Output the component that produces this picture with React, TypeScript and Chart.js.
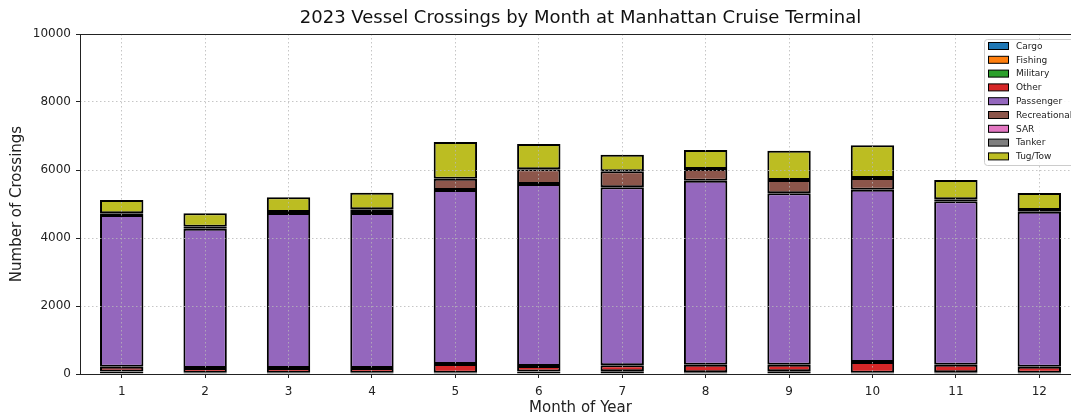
import React, { useEffect, useRef } from "react";
import { Chart, registerables } from "chart.js";

Chart.register(...registerables);

const months = ["1", "2", "3", "4", "5", "6", "7", "8", "9", "10", "11", "12"];
const cargo = [70, 40, 40, 40, 40, 70, 80, 50, 80, 40, 50, 40];
const fishing = [0, 0, 0, 0, 0, 0, 0, 0, 0, 0, 0, 0];
const military = [0, 0, 0, 0, 0, 0, 0, 0, 0, 0, 0, 0];
const other = [140, 136, 136, 136, 254, 165, 175, 225, 195, 313, 225, 176];
const passenger = [4470, 4099, 4559, 4559, 5118, 5353, 5235, 5411, 5039, 5069, 4803, 4559];
const recreational = [46, 58, 30, 108, 333, 432, 471, 343, 392, 343, 59, 49];
const sar = [0, 0, 0, 0, 0, 0, 0, 0, 0, 0, 0, 0];
const tanker = [0, 0, 0, 0, 0, 0, 0, 0, 0, 0, 0, 0];
const tugTow = [392, 393, 431, 490, 1079, 745, 490, 559, 863, 960, 569, 496];

const seriesNames = ["Cargo", "Fishing", "Military", "Other", "Passenger", "Recreational", "SAR", "Tanker", "Tug/Tow"];
const seriesValues = [cargo, fishing, military, other, passenger, recreational, sar, tanker, tugTow];
const seriesColors = ["#1f77b4", "#ff7f0e", "#2ca02c", "#d62728", "#9467bd", "#8c564b", "#e377c2", "#7f7f7f", "#bcbd22"];

const yTicks = [0, 2000, 4000, 6000, 8000, 10000];

const TITLE = "2023 Vessel Crossings by Month at Manhattan Cruise Terminal";
const FONT = "'DejaVu Sans', sans-serif";

const decorPlugin = {
  id: "decor",
  afterDraw(chart: any) {
    const { ctx, chartArea } = chart;
    const { left, right, top, bottom } = chartArea;
    ctx.save();
    // frame
    ctx.strokeStyle = "#222";
    ctx.lineWidth = 1;
    ctx.setLineDash([]);
    ctx.strokeRect(left + 0.5, top + 0.5, right - left, bottom - top);
    // title
    ctx.fillStyle = "#111";
    ctx.font = `18px ${FONT}`;
    ctx.textAlign = "center";
    ctx.textBaseline = "middle";
    ctx.fillText(TITLE, (left + right) / 2, 18);
    // legend
    const x0 = right - 97;
    const y0 = top + 5;
    const w = 94;
    const h = 126;
    ctx.globalAlpha = 0.85;
    ctx.fillStyle = "#ffffff";
    ctx.beginPath();
    (ctx as any).roundRect(x0 + 0.5, y0 + 0.5, w, h, 3);
    ctx.fill();
    ctx.globalAlpha = 1;
    ctx.strokeStyle = "#cccccc";
    ctx.lineWidth = 1;
    ctx.stroke();
    ctx.font = `9px ${FONT}`;
    ctx.textAlign = "left";
    ctx.textBaseline = "middle";
    seriesNames.forEach((name, i) => {
      const cy = y0 + 7 + i * 13.8;
      ctx.fillStyle = seriesColors[i];
      ctx.fillRect(x0 + 4.5, cy - 3.5, 20, 7);
      ctx.strokeStyle = "#000";
      ctx.lineWidth = 1;
      ctx.strokeRect(x0 + 4.5, cy - 3.5, 20, 7);
      ctx.fillStyle = "#222";
      ctx.fillText(name, x0 + 32, cy + 0.5);
    });
    ctx.restore();
  },
};

export default function App() {
  const ref = useRef<HTMLCanvasElement | null>(null);

  useEffect(() => {
    if (!ref.current) return;
    Chart.defaults.font.family = FONT;
    const gridOpts = {
      offset: false,
      color: "#b8b8b8",
      lineWidth: 0.8,
      z: 1,
      drawTicks: true,
      tickLength: 4,
      tickColor: "#222",
      tickWidth: 1,
      tickBorderDash: [],
    };
    const borderOpts = { display: false, dash: [1.5, 2.5] };
    const chart = new Chart(ref.current, {
      type: "bar",
      data: {
        labels: months,
        datasets: seriesNames.map((name, i) => ({
          label: name,
          data: seriesValues[i],
          backgroundColor: seriesColors[i],
          borderColor: "#000",
          borderWidth: 2,
          borderSkipped: false,
          barPercentage: 0.52,
          categoryPercentage: 1,
        })),
      },
      options: {
        responsive: false,
        animation: false,
        layout: { padding: { left: 0, right: 19, top: 34, bottom: 0 } },
        plugins: {
          legend: { display: false },
          title: { display: false },
          tooltip: { enabled: false },
        },
        scales: {
          x: {
            stacked: true,
            offset: true,
            grid: gridOpts,
            border: borderOpts,
            ticks: { color: "#222", font: { size: 12 }, padding: 7, maxRotation: 0, autoSkip: false },
            title: {
              display: true,
              text: "Month of Year",
              color: "#222",
              font: { size: 15 },
              padding: { top: 0, bottom: 2 },
            },
            afterFit(scale: any) {
              scale.height = 45;
            },
          },
          y: {
            stacked: true,
            min: 0,
            max: 10000,
            afterBuildTicks(scale: any) {
              scale.ticks = yTicks.map((v) => ({ value: v }));
            },
            grid: gridOpts,
            border: borderOpts,
            ticks: {
              color: "#222",
              font: { size: 12 },
              padding: 5,
              callback: (v: any) => String(v),
            },
            title: {
              display: true,
              text: "Number of Crossings",
              color: "#222",
              font: { size: 15 },
              padding: { top: 8, bottom: 0 },
            },
            afterFit(scale: any) {
              scale.width = 80;
            },
          },
        },
      },
      plugins: [decorPlugin],
    });
    return () => chart.destroy();
  }, []);

  return (
    <div style={{ position: "fixed", left: 0, top: 0, width: 1100, height: 419, background: "#fff" }}>
      <canvas ref={ref} width={1100} height={419} style={{ width: 1100, height: 419, display: "block" }} />
    </div>
  );
}
